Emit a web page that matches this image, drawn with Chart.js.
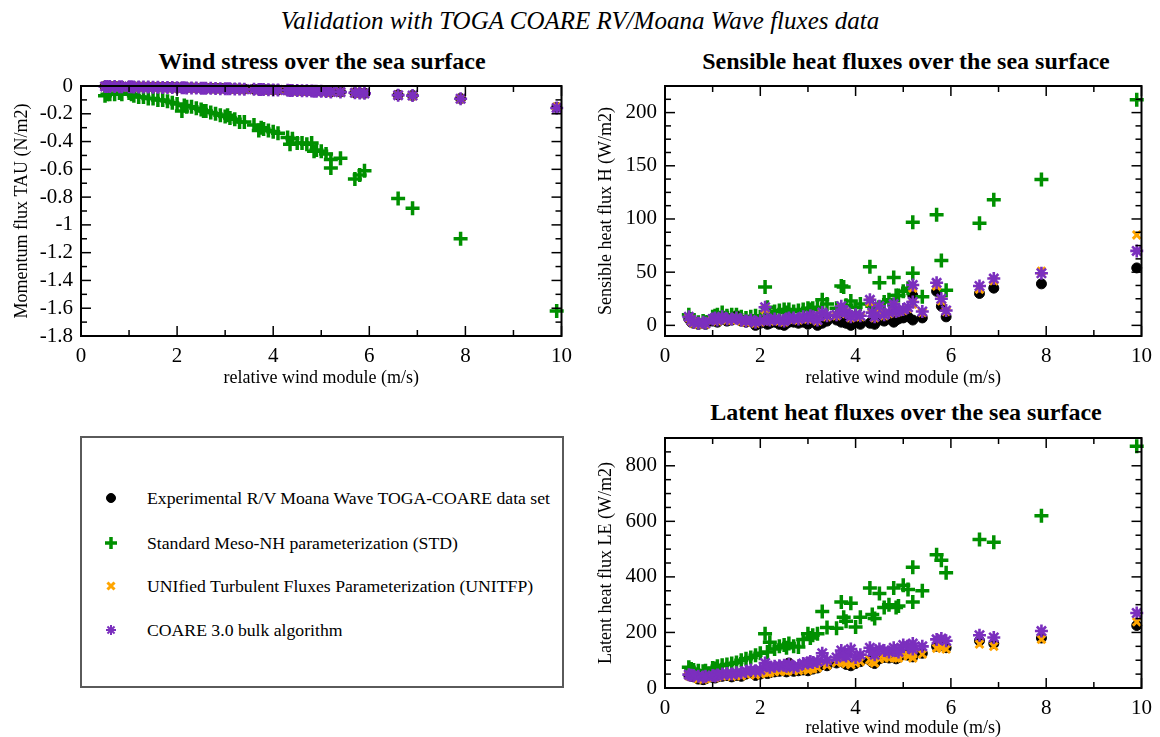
<!DOCTYPE html>
<html><head><meta charset="utf-8">
<script src="https://cdn.jsdelivr.net/npm/chart.js@4.4.1/dist/chart.umd.min.js"></script>
<style>
body{margin:0;width:1160px;height:737px;background:#fff;position:relative;overflow:hidden;font-family:'Liberation Serif','Times New Roman',serif;color:#000;}
.t{position:absolute;text-align:center;white-space:nowrap;line-height:1;font-family:'Liberation Serif','Times New Roman',serif;}
canvas.c{position:absolute;}
#legend{position:absolute;left:80px;top:436px;width:480px;height:248px;border:2px solid #5a5a5a;}
.row{position:absolute;left:0;height:24px;}
.row canvas{position:absolute;left:17px;top:0;}
.row span{position:absolute;left:65px;top:1px;font-size:17.7px;white-space:nowrap;line-height:22px;}
</style></head><body>
<div class="t" style="left:0;width:1160px;top:8px;font-style:italic;font-size:25px;">Validation with TOGA COARE RV/Moana Wave fluxes data</div>
<div class="t" style="left:81px;width:482px;top:49px;font-weight:bold;font-size:24px;">Wind stress over the sea surface</div>
<div class="t" style="left:665px;width:482px;top:49px;font-weight:bold;font-size:24px;">Sensible heat fluxes over the sea surface</div>
<div class="t" style="left:665px;width:482px;top:400px;font-weight:bold;font-size:24px;">Latent heat fluxes over the sea surface</div>
<canvas class="c" id="c1" width="580" height="360" style="left:0;top:40px;"></canvas>
<canvas class="c" id="c2" width="580" height="360" style="left:580px;top:40px;"></canvas>
<canvas class="c" id="c3" width="580" height="337" style="left:580px;top:400px;"></canvas>
<div id="legend"></div>
<script>
// ---- data ----
const windSpeed = [0.5,0.55,0.6,0.7,0.8,0.85,1.0,1.05,1.1,1.2,
  1.3,1.4,1.5,1.6,1.7,1.8,1.9,2.0,2.1,2.15,
  2.2,2.3,2.4,2.5,2.55,2.6,2.7,2.8,2.9,3.0,
  3.05,3.1,3.2,3.3,3.4,3.6,3.7,3.75,3.8,3.9,
  4.0,4.1,4.3,4.35,4.4,4.5,4.6,4.7,4.8,4.85,
  4.9,5.0,5.1,5.2,5.2,5.4,5.7,5.8,5.9,6.6,
  6.9,7.9,9.9];

const tauExp = [-0.002,-0.002,-0.003,-0.003,-0.004,-0.004,-0.005,-0.005,-0.006,-0.006,
  -0.007,-0.007,-0.008,-0.008,-0.009,-0.009,-0.010,-0.011,-0.012,-0.012,
  -0.013,-0.013,-0.014,-0.015,-0.015,-0.016,-0.016,-0.017,-0.017,-0.018,
  -0.018,-0.019,-0.020,-0.021,-0.022,-0.023,-0.024,-0.024,-0.025,-0.026,
  -0.027,-0.028,-0.030,-0.030,-0.031,-0.032,-0.033,-0.034,-0.035,-0.035,
  -0.036,-0.037,-0.038,-0.040,-0.041,-0.043,-0.048,-0.050,-0.052,-0.064,
  -0.068,-0.090,-0.155];
const tauStd = [-0.07,-0.06,-0.06,-0.06,-0.05,-0.06,-0.05,-0.06,-0.07,-0.08,
  -0.08,-0.09,-0.09,-0.10,-0.10,-0.11,-0.12,-0.13,-0.18,-0.14,
  -0.15,-0.15,-0.16,-0.17,-0.18,-0.18,-0.19,-0.20,-0.21,-0.22,
  -0.21,-0.23,-0.24,-0.26,-0.26,-0.28,-0.32,-0.30,-0.31,-0.32,
  -0.33,-0.34,-0.37,-0.42,-0.38,-0.41,-0.41,-0.42,-0.41,-0.47,
  -0.46,-0.47,-0.49,-0.53,-0.59,-0.52,-0.67,-0.64,-0.61,-0.81,
  -0.88,-1.10,-1.62];
const tauUni = [-0.003,-0.003,-0.003,-0.004,-0.004,-0.005,-0.005,-0.006,-0.006,-0.007,
  -0.007,-0.008,-0.008,-0.009,-0.009,-0.010,-0.011,-0.012,-0.013,-0.013,
  -0.014,-0.014,-0.015,-0.015,-0.016,-0.016,-0.017,-0.018,-0.018,-0.019,
  -0.019,-0.020,-0.021,-0.022,-0.023,-0.024,-0.025,-0.025,-0.026,-0.027,
  -0.028,-0.029,-0.031,-0.031,-0.032,-0.033,-0.034,-0.035,-0.036,-0.036,
  -0.037,-0.038,-0.040,-0.041,-0.042,-0.044,-0.049,-0.051,-0.053,-0.066,
  -0.070,-0.092,-0.150];
const tauCoare = [-0.003,-0.003,-0.004,-0.004,-0.005,-0.005,-0.006,-0.006,-0.007,-0.007,
  -0.008,-0.008,-0.009,-0.009,-0.010,-0.010,-0.011,-0.012,-0.013,-0.013,
  -0.014,-0.015,-0.015,-0.016,-0.016,-0.017,-0.017,-0.018,-0.019,-0.019,
  -0.020,-0.020,-0.021,-0.022,-0.023,-0.024,-0.025,-0.025,-0.026,-0.027,
  -0.028,-0.029,-0.031,-0.032,-0.032,-0.033,-0.034,-0.035,-0.036,-0.037,
  -0.037,-0.038,-0.040,-0.041,-0.042,-0.044,-0.049,-0.051,-0.053,-0.066,
  -0.069,-0.092,-0.158];

const hExp = [6,3,2,1,2,1,4,5,3,6, 4,5,9,4,3,4,0,2,3,1, 2,3,1,0,2,3,3,2,3,1,
  4,3,0,2,4,5,3,4,2,0, 3,1,2,4,1,5,4,6,3,5, 6,7,8,5,28,7,32,18,8,30, 35,39,54];
const hStd = [10,6,4,3,4,3,8,9,10,12, 9,10,10,8,7,8,9,8,36,17, 11,13,14,15,12,15,13,14,15,16,
  15,16,17,24,20,16,37,36,19,23, 17,20,55,18,15,40,22,24,45,28, 28,32,35,49,97,27,104,61,33,96, 118,137,212];
const hUni = [7,4,2,1,2,1,5,6,4,7, 5,5,6,4,3,4,2,3,15,5, 4,5,4,3,5,6,6,5,7,6,
  8,7,4,11,8,9,16,13,11,7, 9,8,22,11,7,16,9,11,18,12, 13,14,16,20,35,12,37,23,13,34, 42,51,85];
const hCoare = [8,5,3,2,3,2,6,7,5,8, 6,6,7,5,4,5,3,4,17,6, 5,6,5,4,6,7,7,6,8,7,
  9,8,5,12,9,10,18,14,12,8, 10,9,24,12,8,18,10,12,20,13, 14,15,17,22,38,13,40,25,14,37, 44,49,70];

const leExp = [45,42,40,32,30,33,38,36,40,42, 45,40,45,42,50,55,45,50,55,52, 55,58,60,62,58,90,60,62,65,62,
  70,68,72,85,80,90,95,92,85,80, 88,95,100,92,88,105,110,108,112,105, 110,120,118,112,125,125,150,155,145,170, 160,180,225];
const leStd = [75,68,65,62,60,62,72,70,78,82, 85,88,92,100,105,110,118,125,195,130, 165,140,150,155,145,160,150,148,175,195,
  180,190,195,275,218,215,310,255,240,305, 220,255,360,265,250,340,290,300,360,290, 295,370,355,435,310,350,480,460,415,535, 525,620,870];
const leUni = [44,41,40,33,31,34,38,37,41,43, 46,42,46,44,50,54,47,51,58,54, 56,59,60,63,60,85,62,63,66,64,
  70,69,73,88,82,92,96,93,88,84, 90,95,102,95,90,105,108,110,110,108, 108,118,115,108,122,122,143,145,140,158, 150,175,238];
const leCoare = [48,46,45,42,40,42,45,43,47,50, 52,50,55,55,60,65,62,65,90,80, 75,78,80,82,78,85,75,80,88,90,
  95,92,95,125,100,110,135,120,115,140, 110,120,145,130,120,140,135,130,145,135, 130,155,150,160,140,150,175,178,170,190, 182,205,270];

const xTicks = [0,2,4,6,8,10];
const tauTicks = [0,-0.2,-0.4,-0.6,-0.8,-1,-1.2,-1.4,-1.6,-1.8];
const hTicks = [0,50,100,150,200];
const leTicks = [0,200,400,600,800];

const seriesLabels = ['Experimental R/V Moana Wave TOGA-COARE data set',
  'Standard Meso-NH parameterization (STD)',
  'UNIfied Turbulent Fluxes Parameterization (UNITFP)',
  'COARE 3.0 bulk algorithm'];

// ---- styles ----
const FONT = "'Liberation Serif', serif";
const styles = [
  {pointStyle:'circle', pointRadius:5, backgroundColor:'#000', borderColor:'#000', borderWidth:1, order:3},
  {pointStyle:'cross', pointRadius:7, backgroundColor:'#009000', borderColor:'#009000', borderWidth:3.5, order:2},
  {pointStyle:'crossRot', pointRadius:5.5, backgroundColor:'#ffa500', borderColor:'#ffa500', borderWidth:3, order:1},
  {pointStyle:'star', pointRadius:6.5, backgroundColor:'#7b2fbe', borderColor:'#7b2fbe', borderWidth:2.6, order:0}
];

function mkDatasets(arrs){
  return arrs.map((ys,k)=>Object.assign({
    label: seriesLabels[k],
    data: windSpeed.map((w,i)=>({x:w,y:ys[i]})),
    showLine:false, clip:false, pointHoverRadius: styles[k].pointRadius
  }, styles[k]));
}

const frameTicks = {
  id:'frameTicks',
  afterDraw(chart, args, o){
    const {ctx, chartArea:a, scales:{x,y}} = chart;
    ctx.save();
    ctx.strokeStyle='#000';
    ctx.lineWidth=1.5;
    const isMaj=(v,arr)=>arr.some(t=>Math.abs(t-v)<1e-6);
    const ln=(x1,y1,x2,y2)=>{ctx.beginPath();ctx.moveTo(x1,y1);ctx.lineTo(x2,y2);ctx.stroke();};
    let s=Math.ceil(x.min/o.xMinor-1e-9), e=Math.floor(x.max/o.xMinor+1e-9);
    for(let i=s;i<=e;i++){const v=i*o.xMinor;const p=x.getPixelForValue(v);const L=isMaj(v,o.xMajor)?10:6;
      ln(p,a.bottom,p,a.bottom-L); ln(p,a.top,p,a.top+L);}
    s=Math.ceil(y.min/o.yMinor-1e-9); e=Math.floor(y.max/o.yMinor+1e-9);
    for(let i=s;i<=e;i++){const v=i*o.yMinor;const p=y.getPixelForValue(v);const L=isMaj(v,o.yMajor)?10:6;
      ln(a.left,p,a.left+L,p); ln(a.right,p,a.right-L,p);}
    ctx.lineWidth=2;
    ctx.strokeRect(a.left,a.top,a.right-a.left,a.bottom-a.top);
    ctx.restore();
  }
};

function mkChart(id, arrs, yMin, yMax, yMajor, yMinor, yTitle, lay){
  return new Chart(document.getElementById(id), {
    type:'scatter',
    data:{datasets:mkDatasets(arrs)},
    plugins:[frameTicks],
    options:{
      responsive:false, animation:false, devicePixelRatio:1,
      layout:{padding:{left:0,top:lay.top,right:lay.right,bottom:0}},
      plugins:{legend:{display:false}, tooltip:{enabled:false},
        frameTicks:{xMajor:xTicks, xMinor:1, yMajor:yMajor, yMinor:yMinor}},
      scales:{
        x:{type:'linear', min:0, max:10,
          grid:{display:false, drawTicks:false}, border:{display:false},
          afterBuildTicks:s=>{s.ticks=xTicks.map(v=>({value:v}));},
          afterFit:s=>{s.height=lay.xh;},
          ticks:{color:'#000', font:{family:FONT,size:21}, padding:8, maxRotation:0, autoSkip:false},
          title:{display:true, text:'relative wind module (m/s)', color:'#000', font:{family:FONT,size:18}, padding:{top:0,bottom:lay.xtb}}
        },
        y:{type:'linear', min:yMin, max:yMax,
          grid:{display:false, drawTicks:false}, border:{display:false},
          afterBuildTicks:s=>{s.ticks=yMajor.map(v=>({value:v}));},
          afterFit:s=>{s.width=lay.yw;},
          ticks:{color:'#000', font:{family:FONT,size:21}, padding:8, autoSkip:false,
            callback:v=>String(Number(v.toFixed(3)))},
          title:{display:true, text:yTitle, color:'#000', font:{family:FONT,size:18}, padding:{top:lay.ytp,bottom:0}}
        }
      }
    }
  });
}

mkChart('c1', [tauExp,tauStd,tauUni,tauCoare], -1.8, 0, tauTicks, 0.1, 'Momentum flux TAU (N/m2)',
  {top:46, right:17, xh:64, yw:81, xtb:11, ytp:11});
mkChart('c2', [hExp,hStd,hUni,hCoare], -10, 225, hTicks, 12.5, 'Sensible heat flux H (W/m2)',
  {top:46, right:13, xh:64, yw:85, xtb:11, ytp:15});
mkChart('c3', [leExp,leStd,leUni,leCoare], 0, 900, leTicks, 50, 'Latent heat flux LE (W/m2)',
  {top:38, right:13, xh:49, yw:85, xtb:-2, ytp:15});

// ---- legend ----
const leg = document.getElementById('legend');
const rowTops = [48, 93, 136, 180];
seriesLabels.forEach((lab,k)=>{
  const row=document.createElement('div'); row.className='row'; row.style.top=rowTops[k]+'px';
  const cv=document.createElement('canvas'); cv.width=24; cv.height=24;
  const sp=document.createElement('span'); sp.textContent=lab;
  row.appendChild(cv); row.appendChild(sp); leg.appendChild(row);
  const ctx=cv.getContext('2d'); const st=styles[k];
  ctx.fillStyle=st.backgroundColor; ctx.strokeStyle=st.borderColor;
  const bw = k===3?2:st.borderWidth; ctx.lineWidth=bw;
  const r = k===0?4.5:(k===1?6:5);
  if(Chart.helpers && Chart.helpers.drawPoint){
    Chart.helpers.drawPoint(ctx,{pointStyle:st.pointStyle, radius:r, rotation:0, borderWidth:bw},12,12);
  }
});
</script>
</body></html>
